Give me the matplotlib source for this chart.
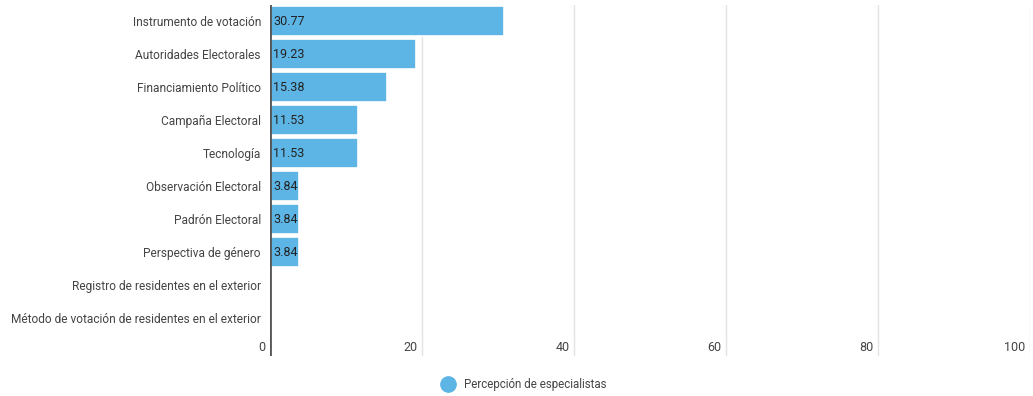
import matplotlib.pyplot as plt
from matplotlib.lines import Line2D

plt.rcParams['font.family'] = ['Roboto', 'DejaVu Sans']

categories = ['Instrumento de votación', 'Autoridades Electorales', 'Financiamiento Político',
              'Campaña Electoral', 'Tecnología', 'Observación Electoral', 'Padrón Electoral',
              'Perspectiva de género', 'Registro de residentes en el exterior',
              'Método de votación de residentes en el exterior']
values = [30.77, 19.23, 15.38, 11.53, 11.53, 3.84, 3.84, 3.84, None, None]
xticks = [0, 20, 40, 60, 80, 100]
series_name = 'Percepción de especialistas'

bar_color = '#5db5e5'

fig = plt.figure(figsize=(10.33, 3.96), dpi=100)
ax = fig.add_axes([0.2614, 0.101, 0.7356, 0.8876])

ypos = list(range(len(categories)))
for y, v in zip(ypos, values):
    if v is None:
        continue
    ax.barh(y, v, height=0.9, color=bar_color, edgecolor='white', linewidth=1.2, zorder=2)
    ax.text(0.4, y, f'{v:.2f}', va='center', ha='left', fontsize=9, color='#222222', zorder=3)

ax.set_xlim(0, 100)
ax.set_ylim(10.15, -0.5)

for t in xticks[1:]:
    ax.axvline(t, color='#e3e3e3', linewidth=1, zorder=1)
ax.axvline(0, color='#555555', linewidth=2, zorder=4)

for t in xticks:
    ax.text(t - 0.6, 9.9, str(t), ha='right', va='center', fontsize=9, color='#444444')

ax.set_yticks(ypos)
ax.set_yticklabels(categories, fontsize=8.6, color='#444444')
ax.tick_params(axis='y', length=0, pad=6.5)
ax.set_xticks([])
for s in ax.spines.values():
    s.set_visible(False)

handle = Line2D([], [], marker='o', linestyle='none', markersize=11,
                markerfacecolor=bar_color, markeredgecolor=bar_color)
fig.legend([handle], [series_name], loc='center', bbox_to_anchor=(0.505, 0.028),
           frameon=False, fontsize=8.3, handletextpad=0.4, labelcolor='#444444')

fig.savefig('out.png', dpi=100)
